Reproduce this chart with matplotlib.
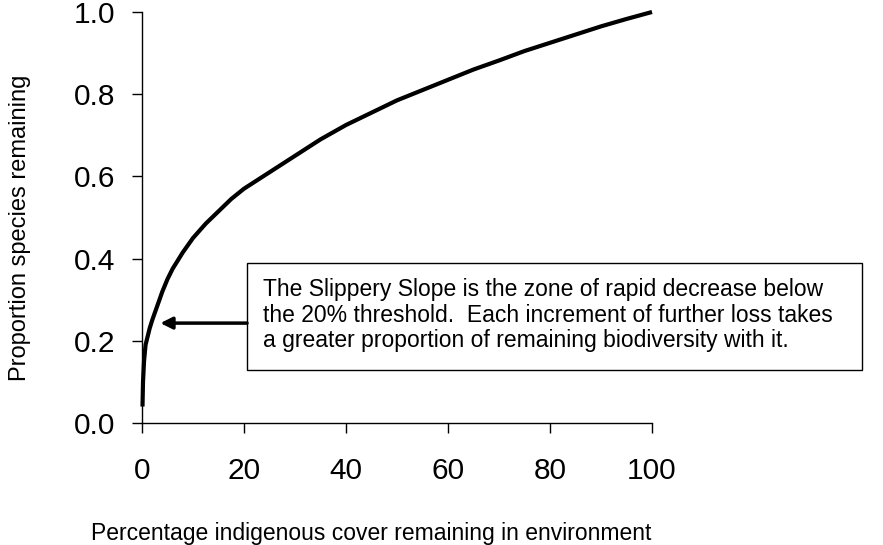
"""
Slippery slope: proportion of species remaining vs indigenous cover.
"""
import matplotlib
matplotlib.use('Agg')
import matplotlib.pyplot as plt
from matplotlib.patches import Rectangle

plt.rcParams['font.family'] = ['Liberation Sans', 'DejaVu Sans']

# values
cover_pct = [0.1, 0.2, 0.4, 0.7, 1, 1.5, 2, 3, 4, 5, 6, 8, 10, 12.5, 15,
             17.5, 20, 25, 30, 35, 40, 45, 50, 55, 60, 65, 70, 75, 80,
             85, 90, 95, 100]
species_prop = [0.04, 0.10, 0.15, 0.19, 0.205, 0.23, 0.25, 0.285, 0.32,
                0.35, 0.375, 0.415, 0.45, 0.485, 0.515, 0.545, 0.57, 0.61,
                0.65, 0.69, 0.725, 0.755, 0.785, 0.81, 0.835, 0.86, 0.882,
                0.905, 0.925, 0.945, 0.965, 0.983, 1.0]

x_ticks = [0, 20, 40, 60, 80, 100]
y_ticks = [0.0, 0.2, 0.4, 0.6, 0.8, 1.0]

note = ("The Slippery Slope is the zone of rapid decrease below\n"
        "the 20% threshold.  Each increment of further loss takes\n"
        "a greater proportion of remaining biodiversity with it.")

fig = plt.figure(figsize=(8.83, 5.45), dpi=100)
ax = fig.add_axes([0.1608, 0.2239, 0.5776, 0.7541])

ax.plot(cover_pct, species_prop, color='black', linewidth=3,
        solid_capstyle='butt', solid_joinstyle='round', clip_on=False)

ax.set_xlim(0, 100)
ax.set_ylim(0, 1)
ax.set_xticks(x_ticks)
ax.set_yticks(y_ticks)
ax.set_xticklabels([str(t) for t in x_ticks])
ax.set_yticklabels([f'{t:.1f}' for t in y_ticks])
ax.tick_params(axis='both', direction='out', length=7.5, width=1,
               labelsize=21.5, colors='black')
ax.tick_params(axis='x', pad=17)
ax.tick_params(axis='y', pad=11.5)

for side in ['top', 'right']:
    ax.spines[side].set_visible(False)
for side in ['left', 'bottom']:
    ax.spines[side].set_linewidth(1)

# annotation box and arrow
box = Rectangle((20.6, 0.129), 120.6, 0.260, transform=ax.transData,
                facecolor='white', edgecolor='black', linewidth=1,
                clip_on=False, zorder=3)
ax.add_patch(box)
ax.text(23.7, 0.353, note, fontsize=16.5, va='top', ha='left',
        linespacing=1.15, zorder=4, clip_on=False)
ax.annotate('', xy=(3.6, 0.243), xytext=(20.6, 0.243),
            arrowprops=dict(arrowstyle='-|>,head_length=0.7,head_width=0.35',
                            color='black', lw=2.5, shrinkA=0, shrinkB=0))

fig.text(0.023, 0.582, 'Proportion species remaining', rotation=90,
         fontsize=17, ha='center', va='center')
fig.text(0.42, 0.0092, 'Percentage indigenous cover remaining in environment',
         fontsize=16.5, ha='center', va='baseline')

fig.savefig('out.png', dpi=100)
